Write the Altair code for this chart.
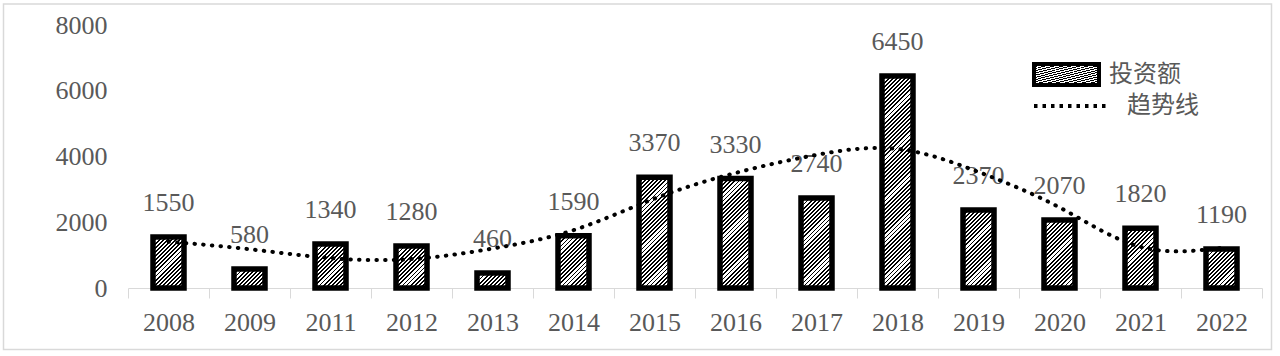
import json
import math
import altair as alt
import pandas as pd

# ---------------- data ----------------
years = ["2008", "2009", "2011", "2012", "2013", "2014", "2015",
         "2016", "2017", "2018", "2019", "2020", "2021", "2022"]
invest = [1550, 580, 1340, 1280, 460, 1590, 3370,
          3330, 2740, 6450, 2370, 2070, 1820, 1190]
trend = [1410, 1180, 910, 880, 1200, 1760, 2720,
         3500, 4050, 4230, 3530, 2450, 1250, 1220]
series_bar = "投资额"
series_line = "趋势线"
y_ticks = [0, 2000, 4000, 6000, 8000]

# ---------------- styling ----------------
W, H = 1134, 263
YMAX = 8000
BAR = 31
GRAY = "#595959"
LIGHT = "#d9d9d9"
SERIF = "Liberation Serif"
CJK = "Noto Sans CJK SC"


def hatch(w, h, period=2.9, ink=0.45):
    """Diagonal '/' hatch as a hard-stop linear gradient (bbox units)."""
    a = (1 / h + 1 / w) / (1 / h ** 2 + 1 / w ** 2)
    dx, dy = a / h, a / w
    D = (w + h) / math.sqrt(2)
    stops = []
    k = 0
    while True:
        s = k * period / D
        if s >= 1:
            break
        e = min((k * period + ink * period) / D, 1)
        s = round(s, 5)
        e = round(e, 5)
        stops += [{"offset": s, "color": "white"}, {"offset": s, "color": "black"},
                  {"offset": e, "color": "black"}, {"offset": e, "color": "white"}]
        k += 1
    stops.append({"offset": 1, "color": "white"})
    return {"gradient": "linear", "x1": 0, "y1": 0, "x2": round(dx, 6),
            "y2": round(dy, 6), "stops": stops}


df = pd.DataFrame({"year": years, "invest": invest, "sb": series_bar})
tdf = pd.DataFrame({"year": years, "trend": trend, "sl": series_line})

conds = [{"test": f"datum.year === '{y}'", "value": hatch(BAR, v / YMAX * H)}
         for y, v in zip(years, invest)]
fill_enc = alt.FillValue(condition=conds[:-1], value=conds[-1]["value"])

legend_grad = hatch(65, 21)

x_enc = alt.X(
    "year:N", sort=years,
    scale=alt.Scale(paddingInner=0, paddingOuter=0),
    axis=alt.Axis(title=None, labelAngle=0, labelFont=SERIF, labelFontSize=26,
                  labelColor=GRAY, domainColor=LIGHT, domainWidth=1,
                  tickColor=LIGHT, tickSize=10, tickWidth=1, tickBand="extent",
                  labelPadding=24, labelBaseline="middle"),
)
y_axis = alt.Axis(values=y_ticks, format="d", title=None, grid=False,
                  domain=False, ticks=False, tickSize=0, labelPadding=21,
                  labelFont=SERIF, labelFontSize=26, labelColor=GRAY,
                  labelBaseline="middle")
y_scale = alt.Scale(domain=[0, YMAX], nice=False)

bars = alt.Chart(df).mark_bar(size=BAR, strokeWidth=5.5).encode(
    x=x_enc,
    y=alt.Y("invest:Q", scale=y_scale, axis=y_axis),
    fill=fill_enc,
    stroke=alt.Stroke(
        "sb:N", scale=alt.Scale(domain=[series_bar], range=["black"]),
        legend=alt.Legend(
            title=None, orient="none", legendX=904, legendY=15, padding=0,
            symbolType="M-1,-0.323H1V0.323H-1Z", symbolSize=4225,
            symbolStrokeWidth=4,
            symbolFillColor=alt.ExprRef(expr=json.dumps(legend_grad)),
            labelFont=CJK, labelFontSize=24, labelColor=GRAY, labelOffset=8,
        ),
    ),
)

labels = alt.Chart(df).mark_text(
    dy=-34, baseline="middle", font=SERIF, fontSize=26, color=GRAY
).encode(
    x=alt.X("year:N", sort=years),
    y=alt.Y("invest:Q"),
    text=alt.Text("invest:Q", format="d"),
)

line = alt.Chart(tdf).mark_line(
    interpolate="natural", strokeDash=[0.5, 8.2], strokeCap="round",
    strokeWidth=4,
).encode(
    x=alt.X("year:N", sort=years),
    y=alt.Y("trend:Q"),
    color=alt.Color(
        "sl:N", scale=alt.Scale(domain=[series_line], range=["black"]),
        legend=alt.Legend(
            title=None, orient="none", legendX=904, legendY=41, padding=0,
            symbolType="stroke", symbolSize=5776, symbolStrokeWidth=4,
            symbolDash=[3.5, 5], symbolStrokeColor="black",
            labelFont=CJK, labelFontSize=24, labelColor=GRAY, labelOffset=15,
        ),
    ),
)

frame = alt.Chart(pd.DataFrame({"b": [0]})).mark_rect(
    fill="white", fillOpacity=0, stroke=LIGHT, strokeWidth=1.5
).encode(
    x=alt.value(-124.5), x2=alt.value(1143.5),
    y=alt.value(-21), y2=alt.value(324.5),
)

chart = alt.layer(frame, bars, labels, line).properties(
    width=W, height=H,
    padding={"left": 128, "top": 25, "right": 18, "bottom": 68},
    autosize=alt.AutoSizeParams(type="none"),
).configure_view(stroke=None)

chart.save("out.html", embed_options={"renderer": "svg", "actions": False})
